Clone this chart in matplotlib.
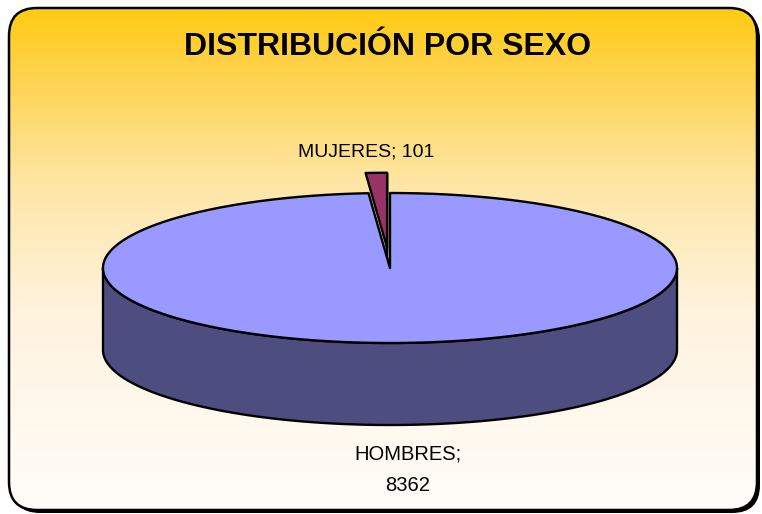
import numpy as np
import matplotlib
matplotlib.use("Agg")
import matplotlib.pyplot as plt
from matplotlib.patches import Polygon, FancyBboxPatch
from matplotlib.colors import LinearSegmentedColormap

# ---- data ----
categories = ["HOMBRES", "MUJERES"]
values = [8362, 101]
title = "DISTRIBUCIÓN POR SEXO"

# ---- styles / layout ----
top_colors = ["#9999FF", "#993366"]
side_colors = ["#4D4D80", "#6B2447"]
W, H = 762, 514
cx, cy, a, b, depth = 390, 268, 287, 75, 82
explode = [0.0, 0.27]

plt.rcParams['font.family'] = ['Liberation Sans', 'DejaVu Sans']

fig = plt.figure(figsize=(W / 100, H / 100), dpi=100)
ax = fig.add_axes([0, 0, 1, 1])
ax.set_xlim(0, W)
ax.set_ylim(H, 0)
ax.axis('off')

# background frame with shadow and gradient
shadow = FancyBboxPatch((12, 11), 748, 502, boxstyle="round,pad=0,rounding_size=28",
                        facecolor='black', edgecolor='none', zorder=0)
ax.add_patch(shadow)
frame = FancyBboxPatch((9, 8), 748, 502, boxstyle="round,pad=0,rounding_size=28",
                       facecolor='none', edgecolor='black', linewidth=1.8, zorder=3)
ax.add_patch(frame)
cmap = LinearSegmentedColormap.from_list(
    "bg", [(0.0, "#FFCB12"), (0.12, "#FFD24A"), (0.35, "#FEE6A6"),
           (0.6, "#FFF3DE"), (1.0, "#FFFDFA")])
grad = np.linspace(0, 1, 256).reshape(-1, 1)
im = ax.imshow(grad, cmap=cmap, extent=[9, 757, 510, 8], aspect='auto', zorder=1)
clip = FancyBboxPatch((9, 8), 748, 502, boxstyle="round,pad=0,rounding_size=28",
                      facecolor='none', edgecolor='none', transform=ax.transData)
ax.add_patch(clip)
im.set_clip_path(clip)


def pt(t, dx=0.0, dy=0.0, dz=0.0):
    r = np.radians(t)
    return cx + a * np.cos(r) + dx, cy - b * np.sin(r) + dy + dz


total = float(sum(values))
start = 90.0
spans = []
for v in values:
    sweep = 360.0 * v / total
    spans.append((start, start - sweep))  # clockwise
    start -= sweep

lw = 1.7
# draw the small exploded slice first (it sits at the back)
order = [1, 0]
for i in order:
    t0, t1 = spans[i]
    mid = np.radians((t0 + t1) / 2)
    dx = a * np.cos(mid) * explode[i]
    dy = -b * np.sin(mid) * explode[i]
    c = (cx + dx, cy + dy)
    ts = np.linspace(t0, t1, max(3, int(abs(t0 - t1) * 2)))
    if i == 1:
        # left radial face (visible through the gap)
        r_end = pt(t1, dx, dy)
        face = [c, r_end, (r_end[0], r_end[1] + depth), (c[0], c[1] + depth)]
        ax.add_patch(Polygon(face, closed=True, facecolor=side_colors[i],
                             edgecolor='black', linewidth=lw, zorder=4))
    else:
        # front side wall
        lo, hi = max(min(t0, t1), -180), min(max(t0, t1), 0)
        st = np.linspace(lo, hi, 400)
        upper = [pt(t, dx, dy) for t in st]
        lower = [pt(t, dx, dy, depth) for t in st[::-1]]
        ax.add_patch(Polygon(upper + lower, closed=True, facecolor=side_colors[i],
                             edgecolor='black', linewidth=lw, zorder=4))
    top = [c] + [pt(t, dx, dy) for t in ts]
    ax.add_patch(Polygon(top, closed=True, facecolor=top_colors[i],
                         edgecolor='black', linewidth=lw, zorder=5, joinstyle='round'))

# labels
ax.text(388, 47, title, ha='center', va='center', fontsize=23, fontweight='bold',
        color='black', zorder=6)
ax.text(366, 152, f"{categories[1]}; {values[1]}", ha='center', va='center',
        fontsize=14, color='black', zorder=6)
ax.text(408, 470, f"{categories[0]};\n{values[0]}", ha='center', va='center',
        fontsize=14.5, color='black', linespacing=1.8, zorder=6)

fig.savefig("out.png", dpi=100)
